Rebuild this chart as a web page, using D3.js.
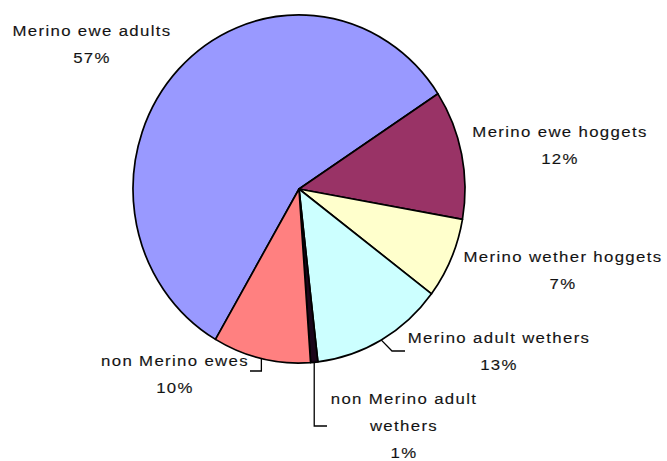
<!DOCTYPE html>
<html>
<head>
<meta charset="utf-8">
<script src="https://cdn.jsdelivr.net/npm/d3@7"></script>
<style>
  html, body { margin: 0; padding: 0; background: #fff; }
  svg { display: block; }
  .lbl { font-family: "Liberation Sans", Arial, sans-serif; font-size: 15px; fill: #111; stroke: #333; stroke-width: 0.15px; letter-spacing: 1.2px; }
</style>
</head>
<body>
<script>
// data
const categories = ['Merino ewe adults', 'Merino ewe hoggets', 'Merino wether hoggets',
  'Merino adult wethers', 'non Merino adult wethers', 'non Merino ewes'];
const shares = [57.4, 12, 7.5, 12.9, 0.7, 9.5];
const percentLabels = ['57%', '12%', '7%', '13%', '1%', '10%'];
const colors = ['#9999FF', '#993366', '#FFFFCC', '#CCFFFF', '#1a061a', '#FF8080'];

// layout
const width = 667, height = 461;
const cx = 299, cy = 189, rx = 166, ry = 174;
const deg = Math.PI / 180;

// label anchor (centre x, first baseline)
const labelAnchors = [[92, 36], [560, 137], [563, 262], [499, 343], [404, 404], [175, 366]];
const labelLines = [
  [categories[0]],
  [categories[1]],
  [categories[2]],
  [categories[3]],
  ['non Merino adult', 'wethers'],
  [categories[5]]
];
// leader line bends (absolute), starting point comes from the slice
const leaders = {
  3: [[392, 351], [405, 351]],
  4: [[null, 426], [327, 426]],
  5: [[null, 371], [250, 371]]
};

const svg = d3.select('body')
  .append('svg')
  .attr('width', width)
  .attr('height', height);

const pie = d3.pie()
  .sort(null)
  .value(d => d)
  .startAngle(-149.8 * deg)
  .endAngle(210.2 * deg);

const arcs = pie(shares);
const arc = d3.arc().innerRadius(0).outerRadius(rx);

const g = svg.append('g')
  .attr('transform', `translate(${cx},${cy}) scale(1,${ry / rx})`);

g.selectAll('path')
  .data(arcs)
  .join('path')
  .attr('d', arc)
  .attr('fill', (d, i) => colors[i])
  .attr('stroke', '#000')
  .attr('stroke-width', 1.7)
  .attr('stroke-linejoin', 'round')
  .attr('vector-effect', 'non-scaling-stroke');

// leaders
Object.keys(leaders).forEach(k => {
  const a = arcs[+k];
  const mid = (a.startAngle + a.endAngle) / 2;
  const sx = cx + rx * Math.sin(mid);
  const sy = cy - ry * Math.cos(mid);
  const pts = [[sx, sy]].concat(leaders[k].map(p => [p[0] === null ? sx : p[0], p[1]]));
  svg.append('path')
    .attr('d', d3.line()(pts))
    .attr('fill', 'none')
    .attr('stroke', '#000')
    .attr('stroke-width', 1.3);
});

// labels
const lineGap = 27;
arcs.forEach((a, i) => {
  const [x, y] = labelAnchors[i];
  const lines = labelLines[i].concat([percentLabels[i]]);
  const t = svg.append('g')
    .attr('transform', `translate(${x},${y}) scale(1.12,1)`);
  lines.forEach((s, j) => {
    t.append('text')
      .attr('class', 'lbl')
      .attr('x', 0)
      .attr('y', j * lineGap)
      .attr('text-anchor', 'middle')
      .text(s);
  });
});
</script>
</body>
</html>
